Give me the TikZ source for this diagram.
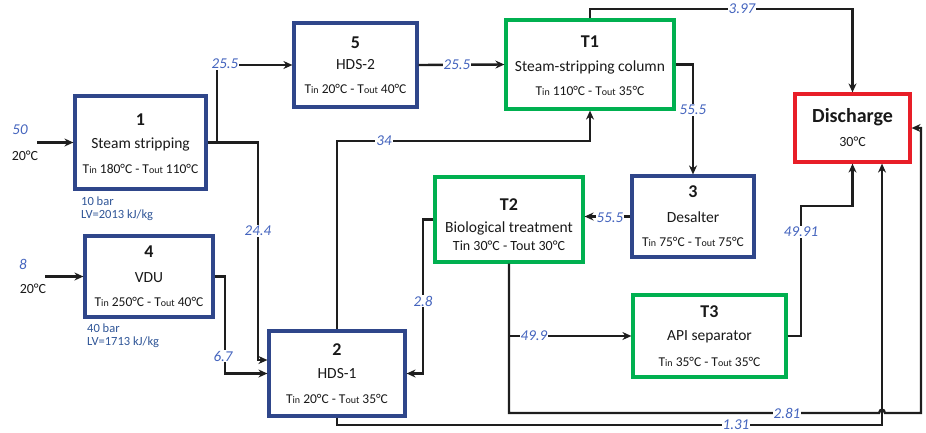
\documentclass[tikz,border=0pt]{standalone}
\usepackage{fontspec}
\setmainfont{Carlito}
\usetikzlibrary{arrows.meta}
\definecolor{boxblue}{RGB}{47,70,138}
\definecolor{boxgreen}{RGB}{0,176,80}
\definecolor{boxred}{RGB}{232,30,40}
\definecolor{lblblue}{RGB}{68,100,190}
\definecolor{noteblue}{RGB}{47,85,151}
\definecolor{linecol}{RGB}{30,30,30}
\definecolor{txtcol}{RGB}{25,25,25}
\newcommand\tsb[1]{{\fontsize{10}{10}\selectfont #1}}
\tikzset{
  unitbox/.style={draw=boxblue, line width=3.2pt, fill=white, inner sep=0pt},
  treatbox/.style={draw=boxgreen, line width=3.2pt, fill=white, inner sep=0pt},
  disbox/.style={draw=boxred, line width=3.2pt, fill=white, inner sep=0pt},
  ttl/.style={font=\fontsize{18}{20}\selectfont\bfseries, text=txtcol, inner sep=0pt},
  mid/.style={font=\fontsize{15.5}{18}\selectfont, text=txtcol, inner sep=0pt},
  tline/.style={font=\fontsize{13.5}{16}\selectfont, text=txtcol, inner sep=0pt},
  lbl/.style={font=\fontsize{15}{18}\selectfont\itshape, text=lblblue, fill=white, inner sep=1pt},
  note/.style={font=\fontsize{12.5}{15}\selectfont, text=noteblue, anchor=west, inner sep=0pt},
  tmp/.style={font=\fontsize{14}{16}\selectfont, text=txtcol, inner sep=0pt},
  flow/.style={line width=2.4pt, draw=linecol, -{Stealth[length=9pt,width=8pt]}}
}
\begin{document}
\begin{tikzpicture}[x=1pt,y=-1pt]
\useasboundingbox (0,0) rectangle (926,432);
% boxes
\node[unitbox, minimum width=131, minimum height=93] (b1) at (140.5,142.5) {};
\node[unitbox, minimum width=128, minimum height=81] (b4) at (149,276.5) {};
\node[unitbox, minimum width=123, minimum height=84] (b5) at (355.5,65) {};
\node[treatbox, minimum width=168, minimum height=89] (t1) at (590,64.5) {};
\node[disbox, minimum width=115, minimum height=68] (dis) at (852.5,128) {};
\node[unitbox, minimum width=136, minimum height=85] (b2) at (337,373.5) {};
\node[treatbox, minimum width=148, minimum height=85] (t2) at (509,219.5) {};
\node[unitbox, minimum width=122, minimum height=81] (b3) at (693,216.5) {};
\node[treatbox, minimum width=153, minimum height=82] (t3) at (709.5,336) {};
% box texts
\node[ttl] (b1t) at (140.5,120) {1};
\node[mid] (b1m) at (140.5,144) {Steam stripping};
\node[tline] (b1l) at (140.5,169) {T\tsb{in} 180°C - T\tsb{out} 110°C};
\node[ttl] (b4t) at (149,252) {4};
\node[mid] (b4m) at (149,278) {VDU};
\node[tline] (b4l) at (149,302) {T\tsb{in} 250°C - T\tsb{out} 40°C};
\node[ttl] (b5t) at (355.5,43) {5};
\node[mid] (b5m) at (355.5,65) {HDS-2};
\node[tline] (b5l) at (355.5,89) {T\tsb{in} 20°C - T\tsb{out} 40°C};
\node[ttl] (t1t) at (590,42) {T1};
\node[mid] (t1m) at (590,67) {Steam-stripping column};
\node[tline] (t1l) at (590,91) {T\tsb{in} 110°C - T\tsb{out} 35°C};
\node[ttl, font=\fontsize{20}{22}\selectfont\bfseries] (dist) at (852.5,117) {Discharge};
\node[tmp] (dism) at (852.5,142) {30°C};
\node[ttl] (b2t) at (337,350) {2};
\node[mid] (b2m) at (337,374) {HDS-1};
\node[tline] (b2l) at (337,399) {T\tsb{in} 20°C - T\tsb{out} 35°C};
\node[ttl] (t2t) at (509,205) {T2};
\node[mid] (t2m) at (509,228) {Biological treatment};
\node[tline, font=\fontsize{14}{16}\selectfont] (t2l) at (509,246) {Tin 30°C - Tout 30°C};
\node[ttl] (b3t) at (693,192) {3};
\node[mid] (b3m) at (693,217) {Desalter};
\node[tline] (b3l) at (693,242) {T\tsb{in} 75°C - T\tsb{out} 75°C};
\node[ttl] (t3t) at (709.5,312) {T3};
\node[mid] (t3m) at (709.5,337) {API separator};
\node[tline] (t3l) at (709.5,362) {T\tsb{in} 35°C - T\tsb{out} 35°C};
% notes
\node[note] (n1a) at (81,201) {10 bar};
\node[note] (n1b) at (81,215) {LV=2013 kJ/kg};
\node[note] (n4a) at (87,328) {40 bar};
\node[note] (n4b) at (87,342) {LV=1713 kJ/kg};
% inputs
\coordinate (in1) at (37,142.5);
\coordinate (in4) at (45,276.5);
\draw[flow] (in1) -- (b1.west);
\draw[flow] (in4) -- (b4.west);
\node[lbl] (l50) at (20,130) {50};
\node[tmp] (i1t) at (25,156) {20°C};
\node[lbl] (l8) at (23,264) {8};
\node[tmp] (i4t) at (33,289) {20°C};
% connectors
\coordinate (c25) at (217,65);
\draw[flow] (b1.east) -- (c25 |- b1.east) -- (c25) -- (b5.west);
\coordinate (c24) at (258,360);
\draw[flow] (b1.east) -- (c24 |- b1.east) -- (c24) -- (c24 -| b2.west);
\coordinate (c67) at (225,373.5);
\draw[flow] (b4.east) -- (c67 |- b4.east) -- (c67) -- (b2.west);
\draw[flow] (b5.east) -- (t1.west);
\coordinate (c34) at (590,141);
\draw[flow] (b2.north) -- (b2.north |- c34) -- (c34) -- (t1.south);
\coordinate (c397) at (852.5,9);
\draw[flow] (t1.north) -- (t1.north |- c397) -- (c397) -- (dis.north);
\coordinate (c555) at (693,64.5);
\draw[flow] (t1.east) -- (c555) -- (b3.north);
\draw[flow] (b3.west) -- (b3.west -| t2.east);
\coordinate (c28) at (423,373.5);
\draw[flow] (t2.west) -- (c28 |- t2.west) -- (c28) -- (b2.east);
\coordinate (c499) at (509,336);
\draw[flow] (c499) -- (t3.west);
\coordinate (c281a) at (509,413);
\coordinate (c281b) at (921,413);
\draw[flow] (t2.south) -- (c281a) -- (879,413) .. controls (880,408.5) and (884,408.5) .. (885,413) -- (c281b) -- (c281b |- dis.east) -- (dis.east);
\coordinate (c131a) at (337,425);
\coordinate (c131b) at (882,425);
\draw[flow] (b2.south) -- (c131a) -- (c131b) -- (c131b |- dis.south);
\coordinate (c4991a) at (801,206);
\draw[flow] (t3.east) -- (c4991a |- t3.east) -- (c4991a) -- (c4991a -| dis.south) -- (dis.south);
% labels
\node[lbl] (l255a) at (225,64) {25.5};
\node[lbl] (l244) at (258,231) {24.4};
\node[lbl] (l67) at (223,356) {6.7};
\node[lbl] (l255b) at (457,65) {25.5};
\node[lbl] (l34) at (384,141) {34};
\node[lbl] (l397) at (742,9) {3.97};
\node[lbl] (l555a) at (693,110) {55.5};
\node[lbl] (l555b) at (610,218) {55.5};
\node[lbl] (l28) at (423,301) {2.8};
\node[lbl] (l499) at (534,336) {49.9};
\node[lbl] (l281) at (787,413) {2.81};
\node[lbl] (l131) at (736,425) {1.31};
\node[lbl] (l4991) at (801,232) {49.91};
\end{tikzpicture}
\end{document}
